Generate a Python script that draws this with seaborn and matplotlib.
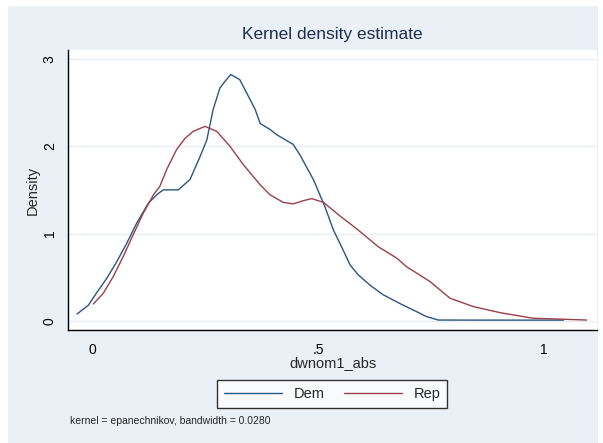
import pandas as pd
import seaborn as sns
import matplotlib.pyplot as plt
from matplotlib.patches import Rectangle

# densities
dem_x = [-0.033, -0.008, 0.010, 0.033, 0.055, 0.077, 0.099, 0.125, 0.147, 0.158,
         0.191, 0.217, 0.239, 0.254, 0.268, 0.283, 0.294, 0.307, 0.327, 0.342,
         0.361, 0.372, 0.394, 0.409, 0.445, 0.460, 0.490, 0.515, 0.534, 0.552,
         0.571, 0.589, 0.615, 0.644, 0.681, 0.718, 0.740, 0.766, 0.850, 0.950, 1.043]
dem_y = [0.08, 0.18, 0.32, 0.49, 0.68, 0.89, 1.12, 1.35, 1.46, 1.50,
         1.50, 1.62, 1.88, 2.07, 2.42, 2.665, 2.74, 2.82, 2.76, 2.61,
         2.42, 2.26, 2.19, 2.13, 2.02, 1.90, 1.615, 1.31, 1.04, 0.85,
         0.64, 0.527, 0.41, 0.30, 0.20, 0.107, 0.05, 0.011, 0.01, 0.01, 0.01]

rep_x = [0.003, 0.025, 0.047, 0.069, 0.091, 0.1135, 0.136, 0.150, 0.165, 0.187,
         0.206, 0.224, 0.250, 0.276, 0.305, 0.335, 0.372, 0.394, 0.423, 0.445,
         0.470, 0.486, 0.512, 0.549, 0.589, 0.633, 0.674, 0.696, 0.748, 0.792,
         0.844, 0.903, 0.976, 1.043, 1.094]
rep_y = [0.195, 0.317, 0.507, 0.737, 0.985, 1.234, 1.443, 1.538, 1.73, 1.96,
         2.09, 2.17, 2.226, 2.17, 2.0, 1.787, 1.558, 1.443, 1.357, 1.34,
         1.38, 1.40, 1.357, 1.20, 1.04, 0.85, 0.72, 0.62, 0.45, 0.26,
         0.164, 0.095, 0.031, 0.02, 0.011]

groups = ["Dem", "Rep"]
x_ticks = [0, 0.5, 1]
x_tick_labels = ["0", ".5", "1"]
y_ticks = [0, 1, 2, 3]
y_tick_labels = ["0", "1", "2", "3"]

df = pd.concat([
    pd.DataFrame({"dwnom1_abs": dem_x, "Density": dem_y, "party": "Dem"}),
    pd.DataFrame({"dwnom1_abs": rep_x, "Density": rep_y, "party": "Rep"}),
])

sns.set_style("white")
plt.rcParams["font.family"] = ["Liberation Sans", "DejaVu Sans"]

bg = "#eaf0f6"
fig = plt.figure(figsize=(6.03, 4.43), dpi=100, facecolor="white")
fig.patches.append(Rectangle((8 / 603, 0), 590 / 603, 437 / 443,
                             transform=fig.transFigure, facecolor=bg,
                             edgecolor="none", zorder=-10))
ax = fig.add_axes([68 / 603, 113 / 443, 529 / 603, 280 / 443])
ax.set_facecolor("white")

for y in y_ticks:
    ax.axhline(y, color="#e8eef4", lw=1.0, zorder=0)

sns.lineplot(data=df, x="dwnom1_abs", y="Density", hue="party",
             hue_order=groups, palette=["#2a5680", "#9a4048"],
             lw=1.0, ax=ax, legend=True, estimator=None, sort=True)

handles, labels = ax.get_legend_handles_labels()
ax.get_legend().remove()

ax.set_xlim(-0.053, 1.117)
ax.set_ylim(-0.103, 3.10)
ax.set_xticks(x_ticks)
ax.set_xticklabels(x_tick_labels)
ax.set_yticks(y_ticks)
ax.set_yticklabels(y_tick_labels, rotation=90, va="center")
ax.tick_params(axis="both", length=5, width=1, color="black",
               labelsize=10, labelcolor="black", direction="out", pad=4)
ax.tick_params(axis="y", pad=3)

for side in ["top", "right"]:
    ax.spines[side].set_visible(False)
for side in ["left", "bottom"]:
    ax.spines[side].set_color("black")
    ax.spines[side].set_linewidth(1.0)

ax.set_xlabel("dwnom1_abs", fontsize=10.5, labelpad=0)
ax.set_ylabel("Density", fontsize=10.5, labelpad=2)
ax.set_title("Kernel density estimate", fontsize=12.5, color="#1e2f4f", pad=8)

leg = fig.legend(handles, labels, loc="center", bbox_to_anchor=(332 / 603, 49 / 443),
                 ncol=2, frameon=True, fancybox=False, fontsize=10.5,
                 handlelength=4.0, columnspacing=1.3, handletextpad=0.8,
                 borderpad=0.45)
leg.get_frame().set_edgecolor("black")
leg.get_frame().set_linewidth(1.0)
leg.get_frame().set_facecolor("white")

fig.text(70 / 603, 22 / 443, "kernel = epanechnikov, bandwidth = 0.0280",
         fontsize=7.5, va="center", ha="left")

fig.savefig("out.png", dpi=100, facecolor="white")
